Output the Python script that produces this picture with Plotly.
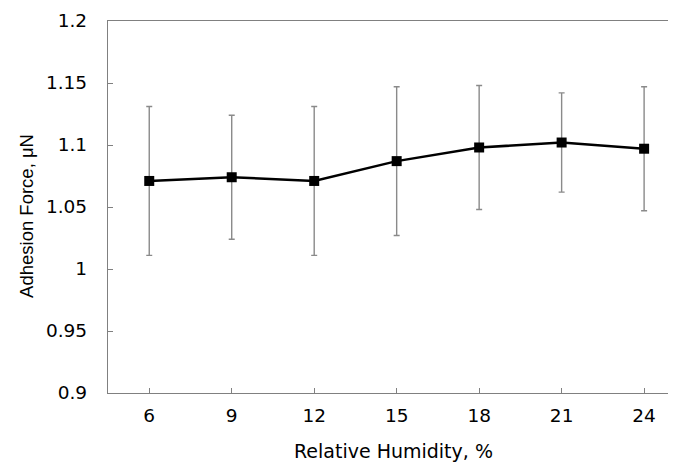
import plotly.graph_objects as go

humidity = [6, 9, 12, 15, 18, 21, 24]
adhesion_force = [1.071, 1.074, 1.071, 1.087, 1.098, 1.102, 1.097]
error = [0.060, 0.050, 0.060, 0.060, 0.050, 0.040, 0.050]
y_tick_vals = [0.9, 0.95, 1.0, 1.05, 1.1, 1.15, 1.2]
y_tick_text = ["0.9", "0.95", "1", "1.05", "1.1", "1.15", "1.2"]
x_tick_text = ["6", "9", "12", "15", "18", "21", "24"]

FONT = "DejaVu Sans"
AX = "#808080"

fig = go.Figure()
fig.add_trace(go.Scatter(
    x=humidity, y=adhesion_force,
    mode="lines+markers",
    line=dict(color="black", width=2.5),
    marker=dict(symbol="square", size=10, color="black"),
    error_y=dict(type="data", array=error, visible=True,
                 color="#8a8a8a", thickness=1.4, width=3),
    showlegend=False,
))

fig.update_layout(
    width=668, height=454,
    margin=dict(l=100, r=0, t=13, b=69),
    paper_bgcolor="white", plot_bgcolor="white",
    font=dict(family=FONT, size=18.5, color="black"),
    xaxis=dict(
        range=[4.5, 25.16], tickmode="array", tickvals=humidity, ticktext=x_tick_text,
        showline=True, linecolor=AX, linewidth=1.3, mirror=True,
        ticks="inside", ticklen=5, tickcolor=AX, tickwidth=1,
        showgrid=False, zeroline=False, ticklabelstandoff=6,
    ),
    yaxis=dict(
        range=[0.9, 1.2], tickmode="array", tickvals=y_tick_vals, ticktext=y_tick_text,
        showline=True, linecolor=AX, linewidth=1.3,
        ticks="inside", ticklen=5, tickcolor=AX, tickwidth=1,
        showgrid=False, zeroline=False, ticklabelstandoff=16,
    ),
    annotations=[
        dict(text="Relative Humidity, %", x=0.5, y=0, xref="paper", yref="paper",
             xshift=1.5, yshift=-44.5, showarrow=False, xanchor="center", yanchor="top",
             font=dict(family=FONT, size=19)),
        dict(text="Adhesion Force, μN", x=-0.1426, y=0.476, xref="paper", yref="paper",
             showarrow=False, textangle=-90, xanchor="center", yanchor="middle",
             font=dict(family="Liberation Sans", size=18.5)),
    ],
)

fig.write_html("out.html")
